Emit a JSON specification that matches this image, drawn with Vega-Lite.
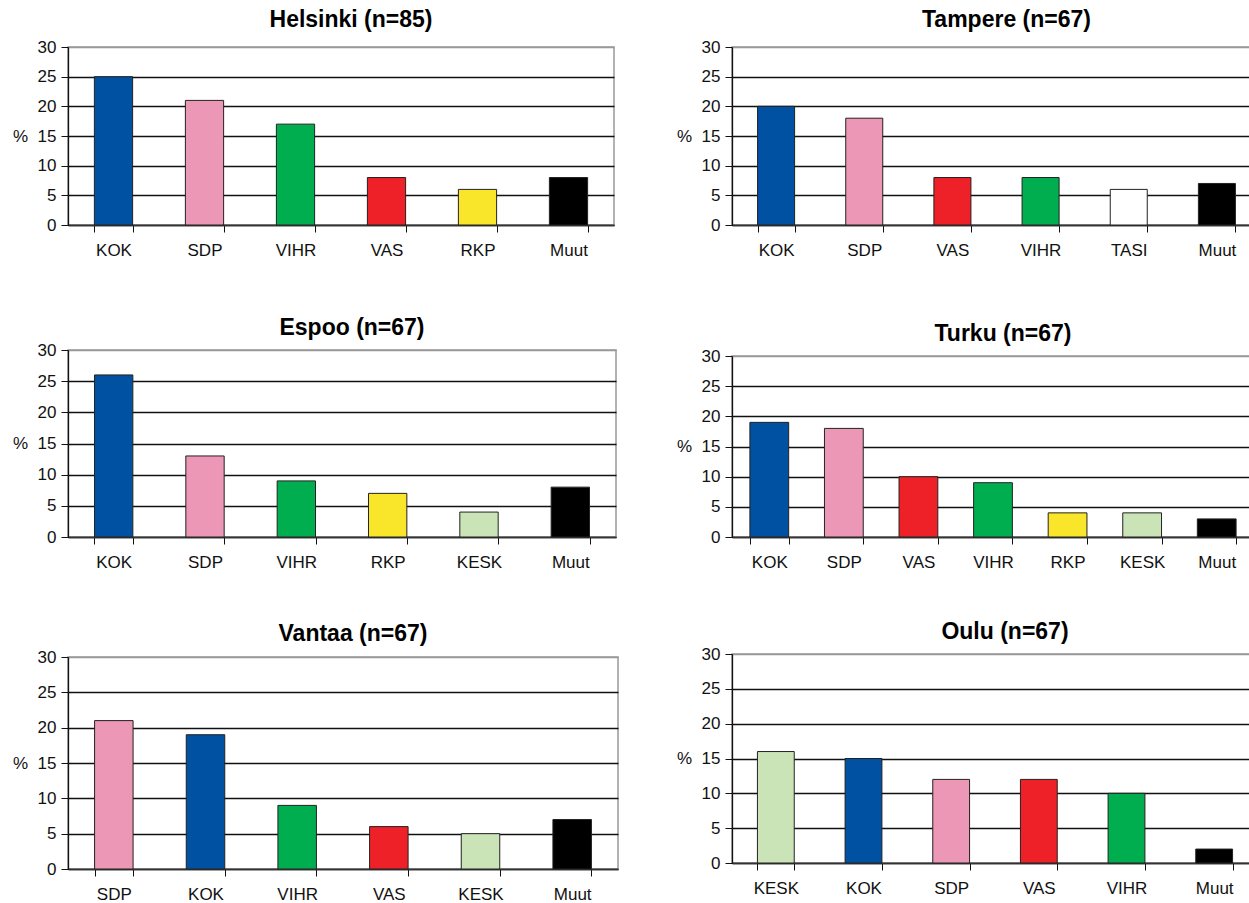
{
  "$schema": "https://vega.github.io/schema/vega-lite/v6.json",
  "padding": {"left": 11, "top": 8, "right": 0, "bottom": 0},
  "background": "white",
  "spacing": 56,
  "config": {
    "font": "Liberation Sans",
    "view": {"stroke": "#999999", "strokeWidth": 1.5},
    "title": {"font": "Liberation Sans", "fontSize": 23, "fontWeight": "bold", "color": "black", "anchor": "middle", "frame": "group", "baseline": "bottom", "dx": 10},
    "axisY": {
      "values": [0, 5, 10, 15, 20, 25, 30],
      "grid": true,
      "gridColor": {"condition": {"test": "datum.value == 30", "value": "#999999"}, "value": "#111111"},
      "gridWidth": 1.3,
      "domainColor": "#111111",
      "domainWidth": 1.3,
      "tickColor": "#111111",
      "tickSize": 7,
      "labelFontSize": 17,
      "labelColor": "#111111",
      "labelPadding": 5,
      "titleAngle": 0,
      "titleFontSize": 17,
      "titleFontWeight": "normal",
      "titleColor": "#111111",
      "titleX": -48,
      "titleAlign": "center",
      "titleBaseline": "middle"
    },
    "axisX": {
      "tickBand": "extent",
      "labelAngle": 0,
      "tickSize": 7,
      "tickColor": "#111111",
      "domainColor": "#333333",
      "domainWidth": 1.3,
      "labelFontSize": 17,
      "labelColor": "#111111",
      "labelPadding": 10,
      "title": null,
      "grid": false
    }
  },
  "data": {
    "values": [
      {"city": "Helsinki", "party": "KOK", "value": 25},
      {"city": "Helsinki", "party": "SDP", "value": 21},
      {"city": "Helsinki", "party": "VIHR", "value": 17},
      {"city": "Helsinki", "party": "VAS", "value": 8},
      {"city": "Helsinki", "party": "RKP", "value": 6},
      {"city": "Helsinki", "party": "Muut", "value": 8},
      {"city": "Tampere", "party": "KOK", "value": 20},
      {"city": "Tampere", "party": "SDP", "value": 18},
      {"city": "Tampere", "party": "VAS", "value": 8},
      {"city": "Tampere", "party": "VIHR", "value": 8},
      {"city": "Tampere", "party": "TASI", "value": 6},
      {"city": "Tampere", "party": "Muut", "value": 7},
      {"city": "Espoo", "party": "KOK", "value": 26},
      {"city": "Espoo", "party": "SDP", "value": 13},
      {"city": "Espoo", "party": "VIHR", "value": 9},
      {"city": "Espoo", "party": "RKP", "value": 7},
      {"city": "Espoo", "party": "KESK", "value": 4},
      {"city": "Espoo", "party": "Muut", "value": 8},
      {"city": "Turku", "party": "KOK", "value": 19},
      {"city": "Turku", "party": "SDP", "value": 18},
      {"city": "Turku", "party": "VAS", "value": 10},
      {"city": "Turku", "party": "VIHR", "value": 9},
      {"city": "Turku", "party": "RKP", "value": 4},
      {"city": "Turku", "party": "KESK", "value": 4},
      {"city": "Turku", "party": "Muut", "value": 3},
      {"city": "Vantaa", "party": "SDP", "value": 21},
      {"city": "Vantaa", "party": "KOK", "value": 19},
      {"city": "Vantaa", "party": "VIHR", "value": 9},
      {"city": "Vantaa", "party": "VAS", "value": 6},
      {"city": "Vantaa", "party": "KESK", "value": 5},
      {"city": "Vantaa", "party": "Muut", "value": 7},
      {"city": "Oulu", "party": "KESK", "value": 16},
      {"city": "Oulu", "party": "KOK", "value": 15},
      {"city": "Oulu", "party": "SDP", "value": 12},
      {"city": "Oulu", "party": "VAS", "value": 12},
      {"city": "Oulu", "party": "VIHR", "value": 10},
      {"city": "Oulu", "party": "Muut", "value": 2}
    ]
  },
  "hconcat": [
    {
      "bounds": "flush",
      "spacing": 125,
      "vconcat": [
        {
          "width": 546, "height": 178,
          "title": {"text": "Helsinki (n=85)", "offset": 6},
          "transform": [{"filter": "datum.city == 'Helsinki'"}],
          "mark": {"type": "bar", "stroke": "#222222", "strokeWidth": 1},
          "encoding": {
            "x": {"field": "party", "type": "nominal", "sort": ["KOK", "SDP", "VIHR", "VAS", "RKP", "Muut"], "scale": {"paddingInner": 0.58, "paddingOuter": 0.29}},
            "y": {"field": "value", "type": "quantitative", "scale": {"domain": [0, 30]}, "axis": {"title": "%", "titleY": 89}},
            "color": {"field": "party", "type": "nominal", "legend": null, "scale": {"domain": ["KOK", "SDP", "VIHR", "VAS", "RKP", "KESK", "TASI", "Muut"], "range": ["#0051A2", "#EB97B5", "#00AE4F", "#ED2127", "#F9E52A", "#CBE4B7", "#FFFFFF", "#000000"]}}
          }
        },
        {
          "bounds": "flush",
          "spacing": 120,
          "vconcat": [
            {
              "width": 548, "height": 187,
              "title": {"text": "Espoo (n=67)", "offset": 1},
              "transform": [{"filter": "datum.city == 'Espoo'"}],
              "mark": {"type": "bar", "stroke": "#222222", "strokeWidth": 1},
              "encoding": {
                "x": {"field": "party", "type": "nominal", "sort": ["KOK", "SDP", "VIHR", "RKP", "KESK", "Muut"], "scale": {"paddingInner": 0.58, "paddingOuter": 0.29}},
                "y": {"field": "value", "type": "quantitative", "scale": {"domain": [0, 30]}, "axis": {"title": "%", "titleY": 93.5}},
                "color": {"field": "party", "type": "nominal", "legend": null, "scale": {"domain": ["KOK", "SDP", "VIHR", "VAS", "RKP", "KESK", "TASI", "Muut"], "range": ["#0051A2", "#EB97B5", "#00AE4F", "#ED2127", "#F9E52A", "#CBE4B7", "#FFFFFF", "#000000"]}}
              }
            },
            {
              "width": 550, "height": 212,
              "title": {"text": "Vantaa (n=67)", "offset": 2},
              "transform": [{"filter": "datum.city == 'Vantaa'"}],
              "mark": {"type": "bar", "stroke": "#222222", "strokeWidth": 1},
              "encoding": {
                "x": {"field": "party", "type": "nominal", "sort": ["SDP", "KOK", "VIHR", "VAS", "KESK", "Muut"], "scale": {"paddingInner": 0.58, "paddingOuter": 0.29}},
                "y": {"field": "value", "type": "quantitative", "scale": {"domain": [0, 30]}, "axis": {"title": "%", "titleY": 106}},
                "color": {"field": "party", "type": "nominal", "legend": null, "scale": {"domain": ["KOK", "SDP", "VIHR", "VAS", "RKP", "KESK", "TASI", "Muut"], "range": ["#0051A2", "#EB97B5", "#00AE4F", "#ED2127", "#F9E52A", "#CBE4B7", "#FFFFFF", "#000000"]}}
              }
            }
          ]
        }
      ]
    },
    {
      "bounds": "flush",
      "spacing": 131,
      "vconcat": [
        {
          "width": 529, "height": 178,
          "title": {"text": "Tampere (n=67)", "offset": 6},
          "transform": [{"filter": "datum.city == 'Tampere'"}],
          "mark": {"type": "bar", "stroke": "#222222", "strokeWidth": 1},
          "encoding": {
            "x": {"field": "party", "type": "nominal", "sort": ["KOK", "SDP", "VAS", "VIHR", "TASI", "Muut"], "scale": {"paddingInner": 0.58, "paddingOuter": 0.29}},
            "y": {"field": "value", "type": "quantitative", "scale": {"domain": [0, 30]}, "axis": {"title": "%", "titleY": 89}},
            "color": {"field": "party", "type": "nominal", "legend": null, "scale": {"domain": ["KOK", "SDP", "VIHR", "VAS", "RKP", "KESK", "TASI", "Muut"], "range": ["#0051A2", "#EB97B5", "#00AE4F", "#ED2127", "#F9E52A", "#CBE4B7", "#FFFFFF", "#000000"]}}
          }
        },
        {
          "bounds": "flush",
          "spacing": 117,
          "vconcat": [
            {
              "width": 522, "height": 181,
              "title": {"text": "Turku (n=67)", "offset": 1},
              "transform": [{"filter": "datum.city == 'Turku'"}],
              "mark": {"type": "bar", "stroke": "#222222", "strokeWidth": 1},
              "encoding": {
                "x": {"field": "party", "type": "nominal", "sort": ["KOK", "SDP", "VAS", "VIHR", "RKP", "KESK", "Muut"], "scale": {"paddingInner": 0.48, "paddingOuter": 0.24}},
                "y": {"field": "value", "type": "quantitative", "scale": {"domain": [0, 30]}, "axis": {"title": "%", "titleY": 90.5}},
                "color": {"field": "party", "type": "nominal", "legend": null, "scale": {"domain": ["KOK", "SDP", "VIHR", "VAS", "RKP", "KESK", "TASI", "Muut"], "range": ["#0051A2", "#EB97B5", "#00AE4F", "#ED2127", "#F9E52A", "#CBE4B7", "#FFFFFF", "#000000"]}}
              }
            },
            {
              "width": 526, "height": 209,
              "title": {"text": "Oulu (n=67)", "offset": 1},
              "transform": [{"filter": "datum.city == 'Oulu'"}],
              "mark": {"type": "bar", "stroke": "#222222", "strokeWidth": 1},
              "encoding": {
                "x": {"field": "party", "type": "nominal", "sort": ["KESK", "KOK", "SDP", "VAS", "VIHR", "Muut"], "scale": {"paddingInner": 0.58, "paddingOuter": 0.29}},
                "y": {"field": "value", "type": "quantitative", "scale": {"domain": [0, 30]}, "axis": {"title": "%", "titleY": 104.5}},
                "color": {"field": "party", "type": "nominal", "legend": null, "scale": {"domain": ["KOK", "SDP", "VIHR", "VAS", "RKP", "KESK", "TASI", "Muut"], "range": ["#0051A2", "#EB97B5", "#00AE4F", "#ED2127", "#F9E52A", "#CBE4B7", "#FFFFFF", "#000000"]}}
              }
            }
          ]
        }
      ]
    }
  ]
}
